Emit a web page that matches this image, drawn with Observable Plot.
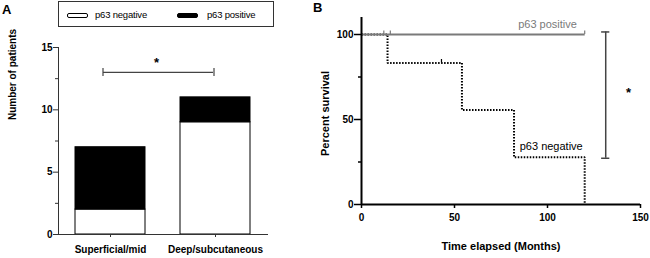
<!DOCTYPE html>
<html>
<head>
<meta charset="utf-8">
<script src="https://cdn.jsdelivr.net/npm/d3@7"></script>
<script src="https://cdn.jsdelivr.net/npm/@observablehq/plot@0.6"></script>
<style>
  html, body { margin: 0; padding: 0; background: #fff; }
  #wrap { position: relative; width: 650px; height: 258px; overflow: hidden; font-family: "Liberation Sans", Arial, sans-serif; }
  #panelA, #panelB { position: absolute; top: 0; }
  #panelA { left: 0; }
  #panelB { left: 300px; }
  .letter { position: absolute; font-weight: bold; font-size: 13px; line-height: 13px; color: #000; }
  #legend { position: absolute; left: 58px; top: 1px; width: 214px; height: 24px; border: 1px solid #333; box-sizing: content-box; }
  .sw { position: absolute; top: 11px; width: 19px; height: 3px; border: 1px solid #000; border-radius: 2px; }
  .lt { position: absolute; top: 7px; font-size: 9.5px; line-height: 12px; color: #000; letter-spacing: -0.2px; }
</style>
</head>
<body>
<div id="wrap">
  <div id="panelA"></div>
  <div id="panelB"></div>
  <div id="legend"></div>
  <div class="letter" style="left:2px; top:3px;">A</div>
  <div class="letter" style="left:313px; top:1px;">B</div>
</div>
<script>
// ---------- Panel A data ----------
const categories = ["Superficial/mid", "Deep/subcutaneous"];
const groups = ["p63 negative", "p63 positive"];
const groupColors = ["white", "black"];
const p63Negative = [2, 9];
const p63Positive = [5, 2];
const yTicksA = [0, 5, 10, 15];
const yMinorA = [2.5, 7.5, 12.5];
const sigLevelA = 13;
const starLevelA = 13.75;

// ---------- Panel B data ----------
const negTime = [0, 14, 54, 82, 120];
const negSurv = [100, 83.3, 55.6, 27.8, 0];
const negCensorTime = [43];
const negCensorSurv = [83.3];
const posTime = [0, 120];
const posSurv = [100, 100];
const posCensorTime = [12, 15.5, 120];
const xTicksB = [0, 50, 100, 150];
const yTicksB = [0, 50, 100];
const yMinorB = [25, 75];
const sigTimeB = 131.3;
const sigRangeB = [27.2, 101.5];
const starB = {t: 143.5, s: 66};

const font = "'Liberation Sans', Arial, sans-serif";

// ---------- Panel A ----------
const rowsA = [];
categories.forEach((c, i) => {
  rowsA.push({cat: c, group: groups[0], n: p63Negative[i]});
  rowsA.push({cat: c, group: groups[1], n: p63Positive[i]});
});

const chartA = Plot.plot({
  width: 300,
  height: 258,
  marginLeft: 58,
  marginRight: 32,
  marginTop: 47,
  marginBottom: 24,
  style: {fontFamily: font, fontWeight: "bold", fontSize: "10px", color: "#000", background: "transparent"},
  x: {type: "band", domain: categories, paddingInner: 0.33, paddingOuter: 0.156, axis: null},
  y: {domain: [0, 15], axis: null},
  color: {domain: groups, range: groupColors},
  marks: [
    Plot.barY(rowsA, {x: "cat", y: "n", fill: "group", stroke: "#000", strokeWidth: 1}),
    Plot.frame({anchor: "left", stroke: "#333", strokeWidth: 1}),
    Plot.ruleY([0], {stroke: "#333", strokeWidth: 1}),
    Plot.axisY(yTicksA, {tickSize: 5, tickPadding: 1, stroke: "#333", fill: "#000", label: null}),
    Plot.axisY(yMinorA, {tickSize: 3, tickFormat: () => "", stroke: "#333", label: null}),
    Plot.axisX(categories, {tickSize: 3, tickPadding: 8, stroke: "#333", fill: "#000", label: null}),
    // significance bracket
    Plot.ruleY([sigLevelA], {x1: () => categories[0], x2: () => categories[1], insetLeft: 28, insetRight: 37, stroke: "#444", strokeWidth: 1.2}),
    Plot.ruleX([categories[0]], {x: d => d, y1: sigLevelA - 0.32, y2: sigLevelA + 0.32, dx: -7.5, stroke: "#444", strokeWidth: 1.2}),
    Plot.ruleX([categories[1]], {x: d => d, y1: sigLevelA - 0.32, y2: sigLevelA + 0.32, dx: -1.5, stroke: "#444", strokeWidth: 1.2}),
    Plot.text([starLevelA], {y: d => d, text: () => "*", frameAnchor: "middle", dx: -7, dy: 0, fontSize: 13}),
    Plot.text(["Number of patients"], {frameAnchor: "left", textAnchor: "middle", lineAnchor: "middle", rotate: -90, dx: -46, dy: -66.5, fontSize: 10})
  ]
});
document.getElementById("panelA").appendChild(chartA);

// ---------- Legend (HTML) ----------
const legend = document.getElementById("legend");
const legendX = [[8, 36], [118, 148]];
groups.forEach((g, i) => {
  const sw = document.createElement("div");
  sw.className = "sw";
  sw.style.left = legendX[i][0] + "px";
  sw.style.background = groupColors[i];
  legend.appendChild(sw);
  const t = document.createElement("div");
  t.className = "lt";
  t.style.left = legendX[i][1] + "px";
  t.textContent = g;
  legend.appendChild(t);
});

// ---------- Panel B ----------
const negRows = negTime.map((t, i) => ({t, s: negSurv[i]}));
const posRows = posTime.map((t, i) => ({t, s: posSurv[i]}));
const negCensor = negCensorTime.map((t, i) => ({t, s: negCensorSurv[i]}));

const chartB = Plot.plot({
  width: 350,
  height: 258,
  marginLeft: 61,
  marginRight: 10,
  marginTop: 17,
  marginBottom: 54,
  style: {fontFamily: font, fontWeight: "bold", fontSize: "10px", color: "#000", background: "transparent"},
  x: {domain: [0, 150], axis: null},
  y: {domain: [0, 110], axis: null},
  marks: [
    // p63 negative
    Plot.line(negRows, {x: "t", y: "s", curve: "step-after", stroke: "#000", strokeWidth: 2, strokeDasharray: "1.5 1.5", strokeLinecap: "butt", strokeLinejoin: "miter"}),
    Plot.ruleX(negCensor, {x: "t", y1: "s", y2: d => d.s + 2, stroke: "#000", strokeWidth: 1.2}),
    // p63 positive
    Plot.line(posRows, {x: "t", y: "s", stroke: "#7a7a7a", strokeWidth: 2.2, strokeLinecap: "butt"}),
    Plot.ruleX(posCensorTime, {x: d => d, y1: 100, y2: 102, stroke: "#7a7a7a", strokeWidth: 1.2}),
    // axes
    Plot.ruleX([0], {y1: 0, y2: 110, stroke: "#000", strokeWidth: 2}),
    Plot.ruleY([0], {stroke: "#000", strokeWidth: 2}),
    Plot.axisY(yTicksB, {tickSize: 7, tickPadding: 1, stroke: "#000", strokeWidth: 1.5, fill: "#000", label: null}),
    Plot.axisY(yMinorB, {tickSize: 3, tickFormat: () => "", stroke: "#000", strokeWidth: 1.5, label: null}),
    Plot.axisX(xTicksB, {tickSize: 4, tickPadding: 5, stroke: "#000", strokeWidth: 1.5, fill: "#000", label: null}),
    Plot.text(["p63 positive"], {x: () => 100, y: () => 106, fill: "#7a7a7a", fontWeight: "normal", fontSize: 11}),
    Plot.text(["p63 negative"], {x: () => 102, y: () => 34, fill: "#000", fontWeight: "normal", fontSize: 11}),
    // significance bracket
    Plot.ruleX([sigTimeB], {x: d => d, y1: sigRangeB[0], y2: sigRangeB[1], stroke: "#444", strokeWidth: 1.5}),
    Plot.ruleY(sigRangeB, {y: d => d, x1: sigTimeB - 2.2, x2: sigTimeB + 2.2, stroke: "#444", strokeWidth: 1.5}),
    Plot.text([starB], {x: "t", y: "s", text: () => "*", fontSize: 13, dy: 1}),
    // axis labels
    Plot.text(["Percent survival"], {frameAnchor: "left", textAnchor: "middle", lineAnchor: "middle", rotate: -90, dx: -36, dy: 2.5, fontSize: 11}),
    Plot.text(["Time elapsed (Months)"], {frameAnchor: "bottom", textAnchor: "middle", lineAnchor: "middle", dy: 42, fontSize: 11})
  ]
});
document.getElementById("panelB").appendChild(chartB);
</script>
</body>
</html>
